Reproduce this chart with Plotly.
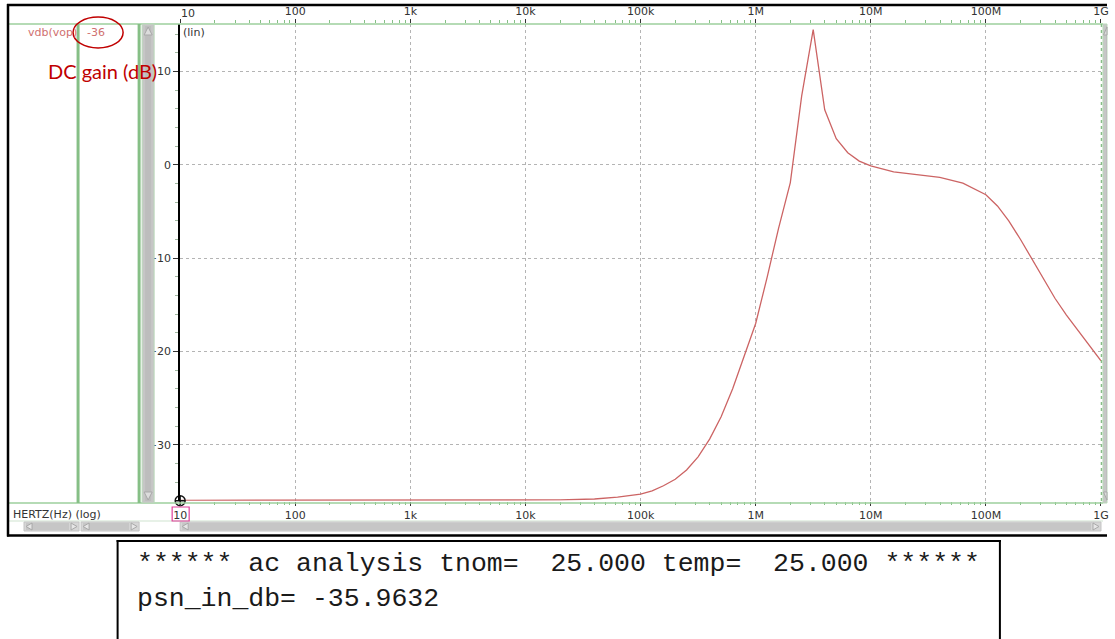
import plotly.graph_objects as go

# AC sweep of vdb(vop): frequency (Hz) and magnitude (dB)
freq_hz = [
    10, 100, 1e3, 1e4, 2.0e4, 3.98e4, 6.31e4,
    1.0e5, 1.26e5, 1.58e5, 2.0e5, 2.51e5, 3.16e5, 3.98e5, 5.01e5, 6.31e5, 7.94e5,
    1.0e6, 1.26e6, 1.58e6, 2.0e6, 2.51e6, 3.16e6, 3.98e6, 5.01e6, 6.31e6, 7.94e6,
    1.0e7, 1.58e7, 2.51e7, 3.98e7, 6.31e7,
    1.0e8, 1.26e8, 1.58e8, 2.0e8, 2.51e8, 3.16e8, 3.98e8, 5.01e8, 6.31e8, 7.94e8,
    1.0e9,
]
vdb_vop = [
    -35.96, -35.96, -35.96, -35.95, -35.92, -35.82, -35.62,
    -35.3, -34.95, -34.4, -33.7, -32.7, -31.3, -29.4, -27.0, -24.0, -20.6,
    -17.0, -12.0, -6.8, -1.9, 7.4, 14.5, 5.9, 2.8, 1.3, 0.4,
    -0.1, -0.75, -1.08, -1.33, -1.95,
    -3.2, -4.4, -6.0, -8.0, -10.1, -12.2, -14.3, -16.1, -17.7, -19.3,
    -21.0,
]

# Axis ticks
x_tick_vals = [1e1, 1e2, 1e3, 1e4, 1e5, 1e6, 1e7, 1e8, 1e9]
x_tick_text = ["10", "100", "1k", "10k", "100k", "1M", "10M", "100M", "1G"]
x_minor_vals = [k * 10 ** d for d in range(1, 9) for k in range(2, 10)]
y_tick_vals = [-30, -20, -10, 0, 10]
y_minor_vals = [v for v in range(-34, 15, 2) if v % 10 != 0]
y_min, y_max = -36, 15.1

dc_gain_label = "-36"
sim_header = "****** ac analysis tnom=\u00a0 25.000 temp=\u00a0 25.000 ******"
sim_result = "psn_in_db= -35.9632"

W, H = 1115, 639
# page body inset: the figure is laid out inside the default body margins
BODY_X0, BODY_W = 8.0, 1099.0


def px(x):
    return min(1.0, max(0.0, (x - BODY_X0) / BODY_W))


def py(y):
    return min(1.0, max(0.0, 1 - y / H))


TICK_FONT = dict(family="DejaVu Sans", size=11, color="#333333")
GREEN = "#9ccf9c"
GREEN_DARK = "#86bf86"
SCROLL = "#c6c6c6"
SCROLL_EDGE = "#a9a9a9"

fig = go.Figure()

fig.add_trace(go.Scatter(
    x=freq_hz, y=vdb_vop, mode="lines",
    line=dict(color="#cc6464", width=1.3),
    xaxis="x", yaxis="y", hoverinfo="skip",
))
# companion trace so the top frequency axis is laid out
fig.add_trace(go.Scatter(
    x=freq_hz, y=vdb_vop, mode="lines", opacity=0,
    line=dict(width=0), xaxis="x2", yaxis="y", hoverinfo="skip",
))
# origin cursor marker
fig.add_trace(go.Scatter(
    x=[freq_hz[0]], y=[y_min], mode="markers", cliponaxis=False,
    marker=dict(symbol="circle-cross-open", size=10, color="#111111",
                line=dict(width=1.4, color="#111111")),
    xaxis="x", yaxis="y", hoverinfo="skip",
))

x_domain = [px(181), px(1101)]
y_domain = [py(500.7), py(24)]

fig.update_layout(
    width=W, height=H,
    margin=dict(l=0, r=0, t=0, b=0),
    paper_bgcolor="white", plot_bgcolor="white",
    showlegend=False, hovermode=False,
    xaxis=dict(
        type="log", range=[1, 9], domain=x_domain, anchor="y",
        showline=False, zeroline=False,
        tickmode="array", tickvals=x_tick_vals, ticktext=x_tick_text,
        ticks="outside", ticklen=4, tickwidth=1.2, tickcolor="#333333",
        tickfont=TICK_FONT, ticklabeloverflow="allow",
        showgrid=True, gridcolor="#b4b4b4", griddash="dot", gridwidth=1,
        minor=dict(tickmode="array", tickvals=x_minor_vals, ticks="outside",
                   ticklen=3, tickcolor=GREEN_DARK, showgrid=False),
        fixedrange=True,
    ),
    xaxis2=dict(
        type="log", range=[1, 9], domain=x_domain, anchor="y",
        overlaying="x", side="top",
        showline=False, zeroline=False, showgrid=False,
        tickmode="array", tickvals=x_tick_vals, ticktext=[""] + x_tick_text[1:],
        ticks="outside", ticklen=4, tickwidth=1.2, tickcolor="#333333",
        tickfont=TICK_FONT, ticklabeloverflow="allow",
        minor=dict(tickmode="array", tickvals=x_minor_vals, ticks="outside",
                   ticklen=3, tickcolor=GREEN_DARK, showgrid=False),
        fixedrange=True,
    ),
    yaxis=dict(
        range=[y_min, y_max], domain=y_domain, anchor="x",
        showline=True, linecolor="#000000", linewidth=2,
        zeroline=False,
        tickmode="array", tickvals=y_tick_vals,
        ticks="outside", ticklen=5, tickwidth=1.2, tickcolor="#333333",
        tickfont=TICK_FONT,
        showgrid=True, gridcolor="#b4b4b4", griddash="dot", gridwidth=1,
        minor=dict(tickmode="array", tickvals=y_minor_vals, ticks="outside",
                   ticklen=3, tickcolor="#a0b8a0", showgrid=False),
        fixedrange=True,
    ),
)

shapes = []


def rect(x0, y0, x1, y1, fill=None, line_color=None, width=1, layer="above"):
    shapes.append(dict(
        type="rect", xref="paper", yref="paper",
        x0=px(x0), x1=px(x1), y0=py(y1), y1=py(y0),
        fillcolor=fill if fill else "rgba(0,0,0,0)",
        line=dict(color=line_color if line_color else "rgba(0,0,0,0)", width=width),
        layer=layer,
    ))


def hline(x0, x1, y, color, width=1, dash="solid"):
    shapes.append(dict(type="line", xref="paper", yref="paper",
                       x0=px(x0), x1=px(x1), y0=py(y), y1=py(y),
                       line=dict(color=color, width=width, dash=dash)))


def vline(x, y0, y1, color, width=1, dash="solid"):
    shapes.append(dict(type="line", xref="paper", yref="paper",
                       x0=px(x), x1=px(x), y0=py(y0), y1=py(y1),
                       line=dict(color=color, width=width, dash=dash)))


def tri(points, fill, edge):
    path = "M " + " L ".join(f"{px(a)},{py(b)}" for a, b in points) + " Z"
    shapes.append(dict(type="path", xref="paper", yref="paper", path=path,
                       fillcolor=fill, line=dict(color=edge, width=1)))


# pane separators
hline(10, 1103, 24, GREEN, 1.5)
hline(10, 1103, 503, GREEN, 1.5)
hline(10, 1103, 521, "#cfe3cf", 1)
vline(79, 24, 503, GREEN_DARK, 3)
vline(140, 24, 503, GREEN_DARK, 3)
vline(1101.5, 24, 503, GREEN_DARK, 1.5, "dot")

# vertical scrollbars
for x0, x1 in [(143, 155), (1103, 1112)]:
    rect(x0, 24, x1, 503, fill=SCROLL, line_color="#b9d8b9", width=1)
    rect(x0 + 3, 26, x1 - 3, 501, fill="#bdbdbd")
    xc = (x0 + x1) / 2
    tri([(xc - 4, 35), (xc + 4, 35), (xc, 27)], "#dcdcdc", SCROLL_EDGE)
    tri([(xc - 4, 492), (xc + 4, 492), (xc, 500)], "#dcdcdc", SCROLL_EDGE)

# horizontal scrollbars
for x0, x1 in [(25, 80), (82, 140), (181, 1101)]:
    rect(x0, 522, x1, 531, fill="#d6d6d6", line_color="#c4c4c4", width=1)
    rect(x0 + 2, 523, x1 - 10, 530, fill=SCROLL)
    tri([(x0 + 2, 526.5), (x0 + 8, 523), (x0 + 8, 530)], "#e6e6e6", SCROLL_EDGE)
    tri([(x1 - 2, 526.5), (x1 - 8, 523), (x1 - 8, 530)], "#e6e6e6", SCROLL_EDGE)

# viewer frame (left, top and bottom edges)
hline(8, W, 5, "#000000", 2.5)
hline(8, W, 535.5, "#000000", 2.5)
vline(9, 4, 536.5, "#000000", 2.5)

# highlighted start of the frequency axis
rect(173, 507, 190, 521, line_color="#e0409a", width=1.2)

# ellipse around the DC gain readout
shapes.append(dict(type="circle", xref="paper", yref="paper",
                   x0=px(74), x1=px(124), y0=py(48), y1=py(17),
                   line=dict(color="#c00000", width=1.5)))

# simulation output box (open at the page bottom)
hline(117.5, 1001, 541, "#000000", 2)
vline(118.5, 540, H, "#000000", 2)
vline(1000, 540, H, "#000000", 2)

fig.update_layout(shapes=shapes)

annotations = [
    dict(text="vdb(vop)", x=px(27), y=py(33), xanchor="left", yanchor="middle",
         font=dict(family="DejaVu Sans", size=11, color="#d07070")),
    dict(text=dc_gain_label, x=px(86), y=py(33), xanchor="left", yanchor="middle",
         font=dict(family="DejaVu Sans", size=11, color="#d07070")),
    dict(text="DC gain (dB)", x=px(47), y=py(71), xanchor="left", yanchor="middle",
         font=dict(family="Lato", size=20, color="#c00000")),
    dict(text="(lin)", x=px(182), y=py(32), xanchor="left", yanchor="middle",
         font=TICK_FONT),
    dict(text="10", x=px(180), y=py(14), xanchor="left", yanchor="middle",
         font=TICK_FONT),
    dict(text="HERTZ(Hz) (log)", x=px(12), y=py(514), xanchor="left", yanchor="middle",
         font=TICK_FONT),
    dict(text=sim_header, x=px(136), y=py(564), xanchor="left", yanchor="middle",
         font=dict(family="Liberation Mono", size=26.5, color="#1a1a1a")),
    dict(text=sim_result, x=px(136), y=py(599), xanchor="left", yanchor="middle",
         font=dict(family="Liberation Mono", size=26.5, color="#1a1a1a")),
]
for a in annotations:
    a.update(xref="paper", yref="paper", showarrow=False)
fig.update_layout(annotations=annotations)

fig.write_html("out.html")
